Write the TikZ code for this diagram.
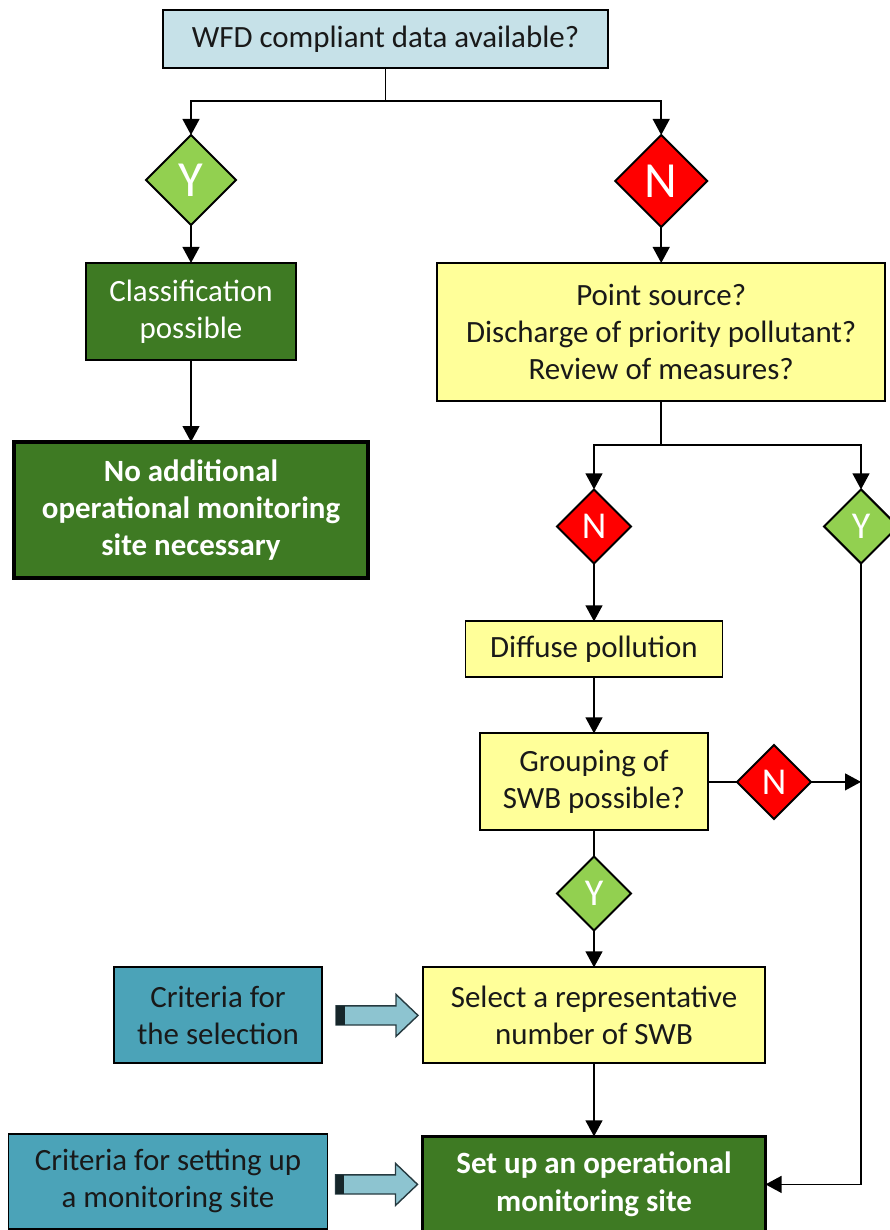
\documentclass[tikz,border=0pt]{standalone}
\usepackage{fontspec}
\setmainfont{Carlito}
\usetikzlibrary{shapes.geometric, arrows.meta, positioning, calc}

\definecolor{qblue}{RGB}{198,225,232}
\definecolor{checkyellow}{RGB}{255,255,153}
\definecolor{resgreen}{RGB}{62,122,35}
\definecolor{yesgreen}{RGB}{146,208,80}
\definecolor{nored}{RGB}{255,0,0}
\definecolor{critteal}{RGB}{75,163,184}
\definecolor{arrowfill}{RGB}{141,196,208}
\definecolor{arrowedge}{RGB}{38,58,64}
\definecolor{arrowdark}{RGB}{22,38,42}
\definecolor{textdark}{RGB}{25,25,25}

\begin{document}
\begin{tikzpicture}[
        box/.style={rectangle, draw, line width=1.4pt, align=center, inner sep=2pt, outer sep=0pt, text=textdark, font=\fontsize{22}{26.6}\selectfont},
        question/.style={box, fill=qblue},
        check/.style={box, fill=checkyellow},
        result/.style={box, fill=resgreen, text=white},
        final/.style={result, line width=2.2pt, font=\bfseries\fontsize{22}{26.6}\selectfont},
        criteria/.style={box, fill=critteal},
        decision/.style={diamond, draw, line width=1.4pt, aspect=1, inner sep=0pt, outer sep=0pt, text=white},
        yesbig/.style={decision, fill=yesgreen, minimum size=2.25cm, font=\fontsize{36}{36}\selectfont},
        nobig/.style={decision, fill=nored, minimum size=2.3cm, font=\fontsize{36}{36}\selectfont},
        yessmall/.style={decision, fill=yesgreen, minimum size=1.85cm, font=\fontsize{27}{27}\selectfont},
        nosmall/.style={decision, fill=nored, minimum size=1.85cm, font=\fontsize{27}{27}\selectfont},
        arrow/.style={-{Triangle[length=0.4cm, width=0.42cm]}, line width=1.3pt},
        line/.style={line width=1.3pt},
        blockarr/.style={draw=arrowedge, fill=arrowfill, line width=1pt, line join=miter}
    ]
        \useasboundingbox (0,0) rectangle (22.225,-30.75);

        % Nodes
        \node[question, minimum width=11.125cm, minimum height=1.45cm] (wfd) at (9.6375,-0.975) {WFD compliant data available?};
        \node[yesbig] (dataY) at (4.775,-4.5) {Y};
        \node[nobig] (dataN) at (16.53,-4.525) {N};
        \node[result, minimum width=5.25cm, minimum height=2.425cm, below=0.95cm of dataY] (classif) {Classification\\possible};
        \node[final, minimum width=8.85cm, minimum height=3.4cm, below=2.05cm of classif] (noextra) {No additional\\operational monitoring\\site necessary};
        \node[check, minimum width=11.2cm, minimum height=3.45cm, below=0.9cm of dataN] (source) {Point source?\\Discharge of priority pollutant?\\Review of measures?};
        \node[nosmall] (sourceN) at (14.85,-13.16) {N};
        \node[yessmall] (sourceY) at (21.525,-13.16) {Y};
        \node[check, minimum width=6.425cm, minimum height=1.4cm, below=1.45cm of sourceN] (diffuse) {Diffuse pollution};
        \node[check, minimum width=5.7cm, minimum height=2.425cm, below=1.4cm of diffuse] (grouping) {Grouping of\\SWB possible?};
        \node[nosmall, right=0.725cm of grouping] (groupN) {N};
        \node[yessmall, below=0.65cm of grouping] (groupY) {Y};
        \node[check, minimum width=8.55cm, minimum height=2.4cm, below=0.925cm of groupY] (select) {Select a representative\\number of SWB};
        \node[final, minimum width=8.575cm, minimum height=2.4cm, below=1.825cm of select] (setup) {Set up an operational\\monitoring site};
        \node[criteria, minimum width=5.2cm, minimum height=2.4cm, left=2.525cm of select] (critsel) {Criteria for\\the selection};
        \node[criteria, minimum width=7.975cm, minimum height=2.375cm, left=2.375cm of setup, yshift=0.08cm] (critsite) {Criteria for setting up\\a monitoring site};

        % Paths
        \draw[arrow] (wfd.south) -- ++(0,-0.825) -| (dataY.north);
        \draw[arrow] (wfd.south) -- ++(0,-0.825) -| (dataN.north);
        \draw[arrow] (dataY) -- (classif);
        \draw[arrow] (classif) -- (noextra);
        \draw[arrow] (dataN) -- (source);
        \draw[arrow] (source.south) -- ++(0,-1.1) -| (sourceN.north);
        \draw[arrow] (source.south) -- ++(0,-1.1) -| (sourceY.north);
        \draw[arrow] (sourceN) -- (diffuse);
        \draw[arrow] (diffuse) -- (grouping);
        \draw[line] (grouping) -- (groupN);
        \draw[arrow] (groupN.east) -- (groupN.east -| sourceY.south);
        \draw[line] (grouping) -- (groupY);
        \draw[arrow] (groupY) -- (select);
        \draw[arrow] (select) -- (setup);
        \draw[arrow] (sourceY.south) |- (setup.east);

        % Block arrows from the criteria
        \draw[blockarr] (select.west) ++(-2.175,0.24) -- ++(1.5,0) -- ++(0,0.285) -- ++(0.55,-0.525) -- ++(-0.55,-0.525) -- ++(0,0.285) -- ++(-1.5,0) -- cycle;
        \fill[arrowdark] (select.west) ++(-2.175,0.24) rectangle ++(0.22,-0.48);
        \draw[blockarr] (setup.west) ++(-2.175,0.24) -- ++(1.5,0) -- ++(0,0.285) -- ++(0.55,-0.525) -- ++(-0.55,-0.525) -- ++(0,0.285) -- ++(-1.5,0) -- cycle;
        \fill[arrowdark] (setup.west) ++(-2.175,0.24) rectangle ++(0.22,-0.48);

    \end{tikzpicture}
\end{document}
